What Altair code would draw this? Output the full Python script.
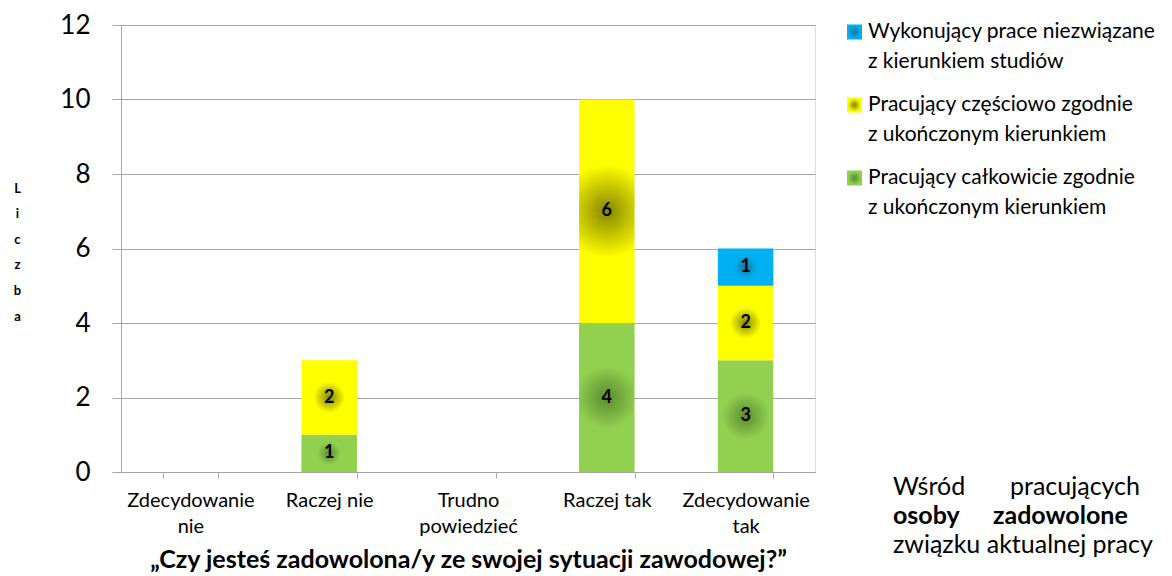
import altair as alt
import pandas as pd

categories = ["Zdecydowanie nie", "Raczej nie", "Trudno powiedzieć", "Raczej tak", "Zdecydowanie tak"]
series_names = [
    "Pracujący całkowicie zgodnie z ukończonym kierunkiem",
    "Pracujący częściowo zgodnie z ukończonym kierunkiem",
    "Wykonujący prace niezwiązane z kierunkiem studiów",
]
green_values = [0, 1, 0, 4, 3]
yellow_values = [0, 2, 0, 6, 2]
blue_values = [0, 0, 0, 0, 1]
y_ticks = [0, 2, 4, 6, 8, 10, 12]
edge_colors = ["#92D050", "#FFFF00", "#00B0F0"]
center_colors = ["#5A8A30", "#868600", "#1B74A0"]
y_title_letters = ["L", "i", "c", "z", "b", "a"]
x_title = "„Czy jesteś zadowolona/y ze swojej sytuacji zawodowej?”"

FONT = "Lato"

rows = []
for order, (name, vals) in enumerate(zip(series_names, [green_values, yellow_values, blue_values])):
    for cat, v in zip(categories, vals):
        if v > 0:
            rows.append({"category": cat, "series": name, "value": v, "order": order})
df = pd.DataFrame(rows)

legend_df = pd.DataFrame({"series": series_names, "order": [0, 1, 2]})


def grad(i, mid=0.42):
    return {
        "gradient": "radial",
        "x1": 0.5, "y1": 0.5, "r1": 0,
        "x2": 0.5, "y2": 0.5, "r2": 0.5,
        "stops": [
            {"offset": 0, "color": center_colors[i]},
            {"offset": mid, "color": edge_colors[i]},
            {"offset": 1, "color": edge_colors[i]},
        ],
    }


def fill_by_order(mid=0.42):
    return alt.FillValue(
        value=grad(0, mid),
        condition=[
            {"test": "datum.order === 2", "value": grad(2, mid)},
            {"test": "datum.order === 1", "value": grad(1, mid)},
        ],
    )


x_enc = alt.X(
    "category:N",
    scale=alt.Scale(domain=categories, paddingInner=0.6, paddingOuter=0.3),
    axis=alt.Axis(
        title=x_title,
        labelAngle=0,
        labelExpr="indexof(datum.label, 'Raczej') == 0 ? datum.label : split(datum.label, ' ')",
        labelFont=FONT, labelFontSize=20, labelLineHeight=26, labelColor="#000000",
        labelPadding=12, labelBaseline="top",
        tickBand="extent", tickSize=6, tickColor="#A6A6A6", domainColor="#A6A6A6",
        titleFont=FONT, titleFontSize=25, titleFontWeight="bold", titleColor="#000000",
        titleY=87, titleBaseline="middle",
    ),
)

y_scale = alt.Scale(domain=[0, 12], nice=False)

base = alt.Chart(df).transform_stack(
    stack="value", groupby=["category"], as_=["v0", "v1"],
    sort=[alt.SortField("order", order="ascending")],
).transform_calculate(mid="(datum.v0 + datum.v1) / 2")

bars = base.mark_bar().encode(
    x=x_enc,
    y=alt.Y(
        "v0:Q", scale=y_scale,
        axis=alt.Axis(
            values=y_ticks, grid=True, gridColor="#A6A6A6", domainColor="#A6A6A6",
            tickColor="#A6A6A6", tickSize=9, labelFont=FONT, labelFontSize=26,
            labelColor="#000000", labelPadding=22,
            title=y_title_letters, titleAngle=0, titleFont=FONT, titleFontSize=13,
            titleFontWeight="bold", titleColor="#000000", titleLineHeight=25.6,
            titleX=-104, titleY=163, titleBaseline="middle", titleAlign="center",
        ),
    ),
    y2="v1:Q",
    fill=fill_by_order(),
)

labels = base.mark_text(font=FONT, fontSize=18, fontWeight="bold", color="#000000").encode(
    x=alt.X("category:N"),
    y=alt.Y("mid:Q"),
    text=alt.Text("value:Q"),
)

# custom legend (top item = last series)
leg_base = alt.Chart(legend_df).transform_calculate(
    ly="7 + 73 * (2 - datum.order)",
    line1="substring(datum.series, 0, indexof(datum.series, ' z '))",
    line2="substring(datum.series, indexof(datum.series, ' z ') + 1)",
)
leg_sym = leg_base.mark_square(size=225, opacity=1).encode(
    x=alt.value(733.5),
    y=alt.Y("ly:Q", scale=None),
    fill=fill_by_order(0.9),
)
leg_l1 = leg_base.mark_text(
    font=FONT, fontSize=21, align="left", baseline="middle", color="#000000"
).encode(x=alt.value(747), y=alt.Y("ly:Q", scale=None), text="line1:N")
leg_l2 = leg_base.transform_calculate(ly2="datum.ly + 30").mark_text(
    font=FONT, fontSize=21, align="left", baseline="middle", color="#000000"
).encode(x=alt.value(747), y=alt.Y("ly2:Q", scale=None), text="line2:N")

para_plain = pd.DataFrame({
    "t": ["Wśród", "pracujących", "związku aktualnej pracy"],
    "x": [772, 889, 772],
    "y": [462, 462, 520],
})
para_bold = pd.DataFrame({
    "t": ["osoby", "zadowolone"],
    "x": [772, 872],
    "y": [491, 491],
})

para1 = alt.Chart(para_plain).mark_text(
    font=FONT, fontSize=25, align="left", baseline="middle", color="#000000"
).encode(x=alt.X("x:Q", scale=None), y=alt.Y("y:Q", scale=None), text="t:N")
para2 = alt.Chart(para_bold).mark_text(
    font=FONT, fontSize=25, fontWeight="bold", align="left", baseline="middle", color="#000000"
).encode(x=alt.X("x:Q", scale=None), y=alt.Y("y:Q", scale=None), text="t:N")

chart = alt.layer(bars, labels, leg_sym, leg_l1, leg_l2, para1, para2).properties(
    width=694, height=447,
    autosize=alt.AutoSizeParams(type="none"),
    padding={"left": 113, "top": 17, "right": 349, "bottom": 104},
).configure_view(stroke=None).configure(background="#FFFFFF")

chart.save("out.html", embed_options={"renderer": "svg", "actions": False})
